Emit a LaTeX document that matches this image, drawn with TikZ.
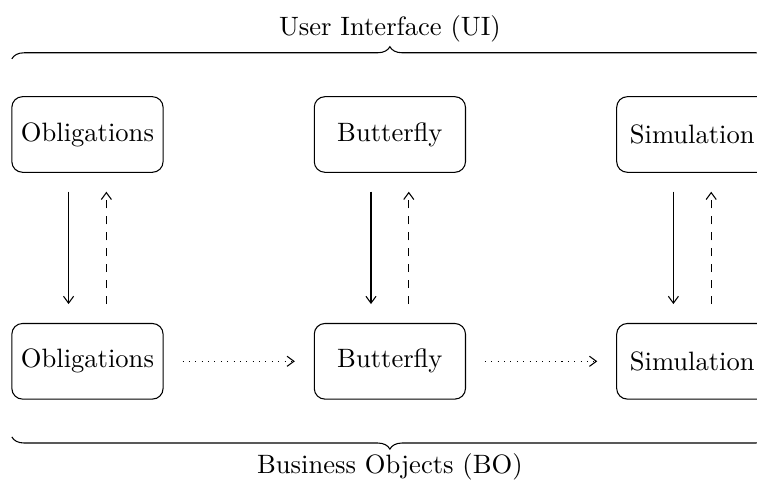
\documentclass[tikz,border=0pt]{standalone}
\usetikzlibrary{decorations.pathreplacing, arrows.meta}
\begin{document}
\begin{tikzpicture}[
  box/.style={draw, rounded corners=4pt, minimum width=2cm, minimum height=1cm, inner sep=0pt},
  tipstyle/.style={-{Straight Barb[length=2.6pt, width=3.8pt]}},
  callarrow/.style={tipstyle},
  retarrow/.style={tipstyle, dashed},
  flowarrow/.style={tipstyle, dotted},
  bracedeco/.style={decorate, decoration={brace, amplitude=4.6pt}}
]
\useasboundingbox (-1.157,-4.636) rectangle (8.856,1.779);
\clip (-1.157,-4.636) rectangle (8.856,1.779);

\node[box] (uiobl) at (0,0) {Obligations};
\node[box] (uibut) at (4,0) {Butterfly};
\node[box] (uisim) at (8,0) {Simulation};
\node[box] (boobl) at (0,-3) {Obligations};
\node[box] (bobut) at (4,-3) {Butterfly};
\node[box] (bosim) at (8,-3) {Simulation};

\foreach \u/\b in {uiobl/boobl, uibut/bobut, uisim/bosim}{
  \draw[callarrow] ([xshift=-0.25cm, yshift=-0.25cm]\u.south) -- ([xshift=-0.25cm, yshift=0.25cm]\b.north);
  \draw[retarrow] ([xshift=0.25cm, yshift=0.25cm]\b.north) -- ([xshift=0.25cm, yshift=-0.25cm]\u.south);
}
\draw[flowarrow] ([xshift=0.25cm]boobl.east) -- ([xshift=-0.25cm]bobut.west);
\draw[flowarrow] ([xshift=0.25cm]bobut.east) -- ([xshift=-0.25cm]bosim.west);

\coordinate (uil) at (-1,1);
\coordinate (uir) at (9,1);
\coordinate (bol) at (-1,-4);
\coordinate (bor) at (9,-4);
\draw[bracedeco] (uil) -- (uir) node[midway, yshift=0.4cm] (uilabel) {User Interface (UI)};
\draw[bracedeco] (bor) -- (bol) node[midway, yshift=-0.4cm] (bolabel) {Business Objects (BO)};
\end{tikzpicture}
\end{document}
